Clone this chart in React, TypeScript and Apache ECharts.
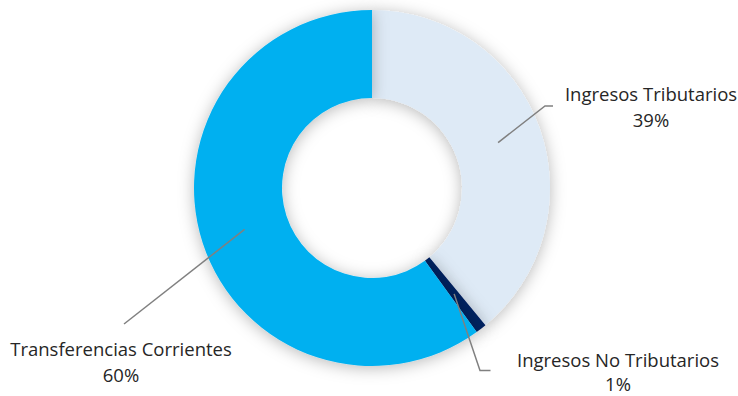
import React, { useEffect, useRef } from "react";
import * as echarts from "echarts";

const categories = ["Ingresos Tributarios", "Ingresos No Tributarios", "Transferencias Corrientes"];
const values = [39, 1, 60];
const colors = ["#DEEAF6", "#002060", "#00B0F0"];

export default function App() {
  const ref = useRef<HTMLDivElement>(null);
  useEffect(() => {
    if (!ref.current) return;
    const chart = echarts.init(ref.current, undefined, { renderer: "svg" });
    const cx = 372, cy = 188, rIn = 90, rOut = 178;
    const total = values.reduce((a, b) => a + b, 0);
    const rMid = (rIn + rOut) / 2;
    // label layout (positions only)
    const labelPos = [
      { elbow: [545, 106], end: [553, 106], tx: 651, y1: 93.5, y2: 119.5 },
      { elbow: [480, 370.5], end: [490.5, 370.5], tx: 618, y1: 359, y2: 383 },
      { elbow: [124, 324], end: [124, 324], tx: 121, y1: 348, y2: 374 },
    ];
    let cum = 0;
    const graphics: any[] = [];
    const textStyle = {
      fontFamily: "Open Sans",
      fontSize: 18.5,
      lineHeight: 18,
      fill: "#262626",
      align: "center",
      verticalAlign: "middle",
    };
    values.forEach((v, i) => {
      const mid = ((cum + v / 2) / total) * Math.PI * 2;
      cum += v;
      const sx = cx + rMid * Math.sin(mid);
      const sy = cy - rMid * Math.cos(mid);
      const p = labelPos[i];
      graphics.push({
        type: "polyline",
        z: 100,
        shape: { points: [[sx, sy], p.elbow, p.end] },
        style: { stroke: "#808080", lineWidth: 1.5, fill: null },
      });
      graphics.push({
        type: "text",
        z: 100,
        x: p.tx,
        y: p.y1,
        style: { ...textStyle, text: categories[i] },
      });
      graphics.push({
        type: "text",
        z: 100,
        x: p.tx,
        y: p.y2,
        style: { ...textStyle, text: `${v}%` },
      });
    });
    chart.setOption({
      animation: false,
      backgroundColor: "#ffffff",
      graphic: graphics,
      series: [
        {
          type: "pie",
          center: [cx, cy],
          radius: [rIn, rOut],
          startAngle: 90,
          clockwise: true,
          label: { show: false },
          labelLine: { show: false },
          emphasis: { disabled: true },
          itemStyle: {
            shadowBlur: 16,
            shadowColor: "rgba(0,0,0,0.28)",
            shadowOffsetY: 2,
          },
          data: categories.map((c, i) => ({
            name: c,
            value: values[i],
            itemStyle: { color: colors[i] },
          })),
        },
      ],
    });
    return () => chart.dispose();
  }, []);
  return (
    <div
      ref={ref}
      style={{ position: "fixed", left: 0, top: 0, width: 738, height: 396 }}
    />
  );
}
